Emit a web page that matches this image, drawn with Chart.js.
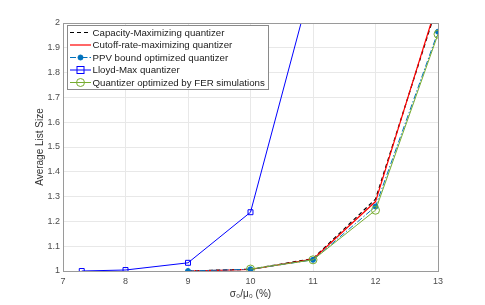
<!DOCTYPE html>
<html>
<head>
<meta charset="utf-8">
<script src="https://cdn.jsdelivr.net/npm/chart.js@4.4.0/dist/chart.umd.min.js"></script>
<style>
  body { margin: 0; background: #fff; }
  canvas { display: block; }
</style>
</head>
<body>
<canvas id="myChart" width="485" height="305"></canvas>
<script>
// data
var xMain = [9, 10, 11, 12, 13];
var xLloyd = [7.3, 8, 9, 10, 11];
var xFer = [10, 11, 12, 13];

var capacityMax = [1.0, 1.007, 1.05, 1.29, 2.08];
var cutoffMax = [1.0, 1.006, 1.048, 1.28, 2.09];
var ppvBound = [1.0, 1.007, 1.045, 1.26, 1.965];
var lloydMax = [1.0, 1.004, 1.033, 1.237, 2.18];
var ferOpt = [1.008, 1.045, 1.245, 1.955];

var seriesNames = [
  'Capacity-Maximizing quantizer',
  'Cutoff-rate-maximizing quantizer',
  'PPV bound optimized quantizer',
  'Lloyd-Max quantizer',
  'Quantizer optimized by FER simulations'
];

var fontFam = "'Liberation Sans', Arial, Helvetica, sans-serif";

function pts(xs, ys) {
  return xs.map(function (x, i) { return { x: x, y: ys[i] }; });
}

var styles = [
  { color: '#000000', dash: [4, 3], width: 1.2, marker: false },
  { color: '#ff0000', dash: [], width: 1.2, marker: false },
  { color: '#0072bd', dash: [6, 2, 1.5, 2], width: 1, marker: 'circle', fill: true, r: 2.5 },
  { color: '#0000ff', dash: [], width: 1, marker: 'rect', fill: false, r: 3.5 },
  { color: '#77ac30', dash: [], width: 1, marker: 'circle', fill: false, r: 4 }
];

var allData = [
  pts(xMain, capacityMax),
  pts(xMain, cutoffMax),
  pts(xMain, ppvBound),
  pts(xLloyd, lloydMax),
  pts(xFer, ferOpt)
];

var datasets = allData.map(function (d, i) {
  var s = styles[i];
  return {
    label: seriesNames[i],
    data: d,
    order: 5 - i,
    borderColor: s.color,
    borderWidth: s.width,
    borderDash: s.dash,
    backgroundColor: s.fill ? s.color : 'rgba(0,0,0,0)',
    pointStyle: s.marker || 'circle',
    pointRadius: s.marker ? s.r : 0,
    pointBorderColor: s.color,
    pointBackgroundColor: s.fill ? s.color : 'rgba(0,0,0,0)',
    pointBorderWidth: 1,
    tension: 0,
    fill: false
  };
});

// box around plot + legend drawn inside the axes like matlab
var boxAndLegend = {
  id: 'boxAndLegend',
  afterDatasetsDraw: function (chart) {
    var ctx = chart.ctx;
    var a = chart.chartArea;
    ctx.save();
    ctx.strokeStyle = '#9a9a9a';
    ctx.lineWidth = 1;
    ctx.strokeRect(Math.round(a.left) + 0.5, Math.round(a.top) + 0.5,
      Math.round(a.right - a.left), Math.round(a.bottom - a.top));

    var lx = 67, ly = 25, lw = 201, lh = 64;
    ctx.fillStyle = '#ffffff';
    ctx.fillRect(lx, ly, lw, lh);
    ctx.strokeStyle = '#8a8a8a';
    ctx.strokeRect(lx + 0.5, ly + 0.5, lw, lh);

    ctx.font = '9.7px ' + fontFam;
    ctx.textBaseline = 'middle';
    for (var i = 0; i < seriesNames.length; i++) {
      var s = styles[i];
      var y = ly + 7.5 + i * 12.5;
      ctx.setLineDash(s.dash);
      ctx.strokeStyle = s.color;
      ctx.lineWidth = s.width;
      ctx.beginPath();
      ctx.moveTo(lx + 3, y);
      ctx.lineTo(lx + 24, y);
      ctx.stroke();
      ctx.setLineDash([]);
      if (s.marker === 'circle') {
        ctx.beginPath();
        ctx.arc(lx + 13.5, y, s.r, 0, Math.PI * 2);
        if (s.fill) { ctx.fillStyle = s.color; ctx.fill(); }
        ctx.lineWidth = 1;
        ctx.stroke();
      } else if (s.marker === 'rect') {
        ctx.lineWidth = 1;
        ctx.strokeRect(lx + 13.5 - s.r, y - s.r, s.r * 2, s.r * 2);
      }
      ctx.fillStyle = '#1a1a1a';
      ctx.fillText(seriesNames[i], lx + 25.5, y + 0.5);
    }
    ctx.restore();
  }
};

var mychart = new Chart('myChart', {
  type: 'line',
  data: { datasets: datasets },
  options: {
    responsive: false,
    animation: false,
    layout: { padding: { left: 34, right: 47, top: 23, bottom: 0 } },
    plugins: { legend: { display: false }, tooltip: { enabled: false } },
    scales: {
      x: {
        type: 'linear',
        min: 7,
        max: 13,
        afterFit: function (scale) { scale.height = 34; },
        ticks: {
          stepSize: 1,
          padding: 5,
          color: '#4d4d4d',
          font: { family: fontFam, size: 9 }
        },
        grid: { color: '#e8e8e8', drawTicks: false },
        border: { color: '#9a9a9a' },
        title: {
          display: true,
          text: 'σ₀/μ₀ (%)',
          color: '#333',
          font: { family: fontFam, size: 10 },
          padding: { top: 2, bottom: 5 }
        }
      },
      y: {
        min: 1,
        max: 2,
        afterFit: function (scale) { scale.width = 29; },
        ticks: {
          stepSize: 0.1,
          padding: 3,
          color: '#4d4d4d',
          font: { family: fontFam, size: 9 },
          callback: function (v) { return String(Number(v.toFixed(1))); }
        },
        grid: { color: '#e8e8e8', drawTicks: false },
        border: { color: '#9a9a9a' },
        title: {
          display: true,
          text: 'Average List Size',
          color: '#333',
          font: { family: fontFam, size: 10 },
          padding: { top: 0, bottom: 0 }
        }
      }
    }
  },
  plugins: [boxAndLegend]
});
</script>
</body>
</html>
